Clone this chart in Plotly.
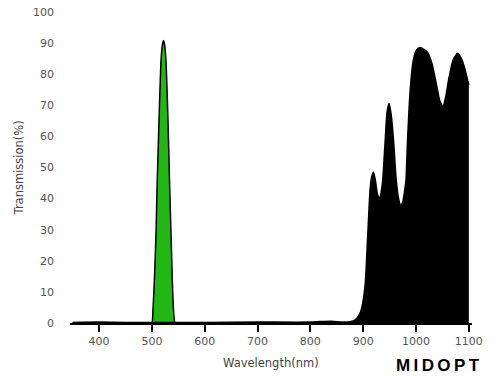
import plotly.graph_objects as go

# Green band-pass filter
green_wl = [350, 495, 500, 502, 505, 508, 510, 513, 517, 519.5, 522, 524.5, 527, 531, 533.5, 536, 538.5, 541, 544, 550, 1100]
green_t = [0, 0, 0, 4, 15, 30, 45, 62, 83.5, 89, 90.8, 89, 83.5, 62, 45, 30, 15, 4, 0, 0, 0]

# Black NIR curve
black_wl = [350, 400, 450, 500, 600, 700, 800, 840, 860, 875, 885, 894, 899, 904, 907, 910, 913, 916,
            919.5, 923, 927, 931, 934, 937, 941.7, 945, 949, 953, 957.4, 962.5, 967, 971, 975, 978,
            981, 984, 989, 995, 1001, 1008, 1015, 1022, 1030, 1039.5, 1045, 1051, 1056, 1061.6,
            1070, 1078.7, 1086, 1093, 1100]
black_t = [0.2, 0.3, 0.2, 0.2, 0.2, 0.3, 0.3, 0.6, 0.3, 0.4, 1, 3.1, 6.3, 12.8, 22.5, 33, 42.8, 47,
           48.5, 46, 41.5, 40, 42, 46, 58.8, 67.5, 70.6, 67, 58.8, 46, 40, 37.9, 39, 42,
           46, 58.8, 74.9, 84.6, 87.8, 88.6, 88, 87, 83.5, 76, 71.5, 69.6, 72.5, 78.1,
           84.5, 86.7, 85, 81.4, 76.5]

x_ticks = [400, 500, 600, 700, 800, 900, 1000, 1100]
y_ticks = [0, 10, 20, 30, 40, 50, 60, 70, 80, 90, 100]

font_family = "DejaVu Sans"
grey = "#555555"

fig = go.Figure()
fig.add_trace(go.Scatter(x=green_wl, y=green_t, mode="lines", fill="tozeroy",
                         fillcolor="#22b814", line=dict(color="black", width=1.5, shape="spline", smoothing=0.6),
                         hoverinfo="skip", showlegend=False))
fig.add_trace(go.Scatter(x=black_wl, y=black_t, mode="lines", fill="tozeroy",
                         fillcolor="black", line=dict(color="black", width=1.5, shape="spline", smoothing=0.6),
                         hoverinfo="skip", showlegend=False))

fig.update_layout(
    width=500, height=388,
    margin=dict(l=70, r=28, t=12, b=65),
    paper_bgcolor="white", plot_bgcolor="white",
    font=dict(family=font_family, size=11, color=grey),
    xaxis=dict(range=[345, 1106], tickvals=x_ticks, ticks="outside", ticklen=7, tickwidth=1.5,
               tickcolor="black", showline=True, linecolor="black", linewidth=2,
               showgrid=False, zeroline=False, automargin=False,
               tickfont=dict(family=font_family, size=11, color=grey)),
    yaxis=dict(range=[0, 100], tickvals=y_ticks, ticks="", showline=False, showgrid=False,
               zeroline=False, ticklabelstandoff=15, automargin=False,
               tickfont=dict(family=font_family, size=11, color=grey)),
)

fig.add_annotation(text="Wavelength(nm)", xref="paper", yref="paper", x=0.5, y=-0.1286,
                   xanchor="center", yanchor="middle", showarrow=False,
                   font=dict(family=font_family, size=11.5, color="#444444"))
fig.add_annotation(text="Transmission(%)", xref="paper", yref="paper", x=-0.127, y=0.5,
                   xanchor="center", yanchor="middle", showarrow=False, textangle=-90,
                   font=dict(family=font_family, size=11.5, color="#444444"))
fig.add_annotation(text="<b>M\u2009I\u2009D\u2009O\u2009P\u2009T</b>", xref="paper", yref="paper", x=0.915, y=-0.138,
                   xanchor="center", yanchor="middle", showarrow=False,
                   font=dict(family="Liberation Sans", size=17, color="black"))

fig.write_html("out.html", config={"displayModeBar": False},
               post_script="document.body.style.margin='0';document.body.style.padding='0';")
